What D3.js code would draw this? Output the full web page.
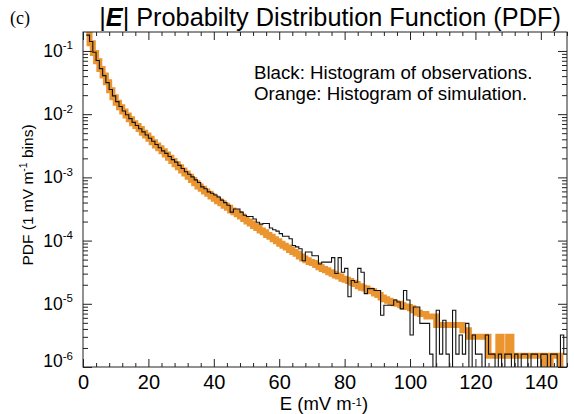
<!DOCTYPE html>
<html>
<head>
<meta charset="utf-8">
<script src="https://cdn.jsdelivr.net/npm/d3@7"></script>
<style>
  html, body { margin: 0; padding: 0; background: #fff; }
  svg { display: block; font-family: "Liberation Sans", Arial, Helvetica, sans-serif; }
</style>
</head>
<body>
<svg id="chart" width="574" height="414"></svg>
<script>
// Histogram bins are 1 mV/m wide; bin i spans [i, i+1].
const binStart = 1;

// Observed |E| histogram (PDF per 1 mV/m bin); 0 = empty bin.
const observed = [
  0.178, 0.141, 0.0955, 0.0708, 0.0525, 0.0407, 0.0316, 0.0245, 0.0195, 0.0158,
  0.0132, 0.0112, 0.00977, 0.00851, 0.00741, 0.00661, 0.00589, 0.00525, 0.00468, 0.00417,
  0.00372, 0.00331, 0.00295, 0.00263, 0.0024, 0.00214, 0.00191, 0.00174, 0.00155, 0.00138,
  0.00123, 0.00112, 0.00102, 0.000912, 0.000832, 0.000708, 0.000661, 0.000589, 0.000562, 0.000525,
  0.00049, 0.000437, 0.000398, 0.000363, 0.000282, 0.000316, 0.000316, 0.000282, 0.000251, 0.00024,
  0.00024, 0.000219, 0.000195, 0.000182, 0.000186, 0.000186, 0.000158, 0.000148, 0.000141, 0.000129,
  0.000117, 0.000117, 0.000107, 0.0000832, 0.0000794, 0.0000741, 0.0000479, 0.0000661, 0.0000661, 0.0000575,
  0.0000575, 0.0000427, 0.0000457, 0.0000457, 0.0000457, 0.0000537, 0.0000302, 0.0000537, 0.0000316, 0.0000363,
  0.0000129, 0.0000234, 0.0000219, 0.0000363, 0.0000316, 0.0000145, 0.0000174, 0.0000174, 0.0000162, 0.0000162,
  0.0000066, 0.0000095, 0.0000095, 0.0000095, 0.0000115, 0.0000107, 0.0000083, 0.0000162, 0.0000115, 0.0000032,
  0.0000089, 0.0000089, 0.0000049, 0.0000049, 0.0000049, 0.0000016, 0, 0.0000079, 0.0000016, 0.0000055,
  0.0000016, 0, 0.0000079, 0.0000016, 0.0000032, 0.0000016, 0.0000049, 0, 0.0000032, 0.0000016,
  0.0000016, 0, 0.0000032, 0.0000016, 0.0000016, 0, 0.0000016, 0, 0.0000016, 0.0000016,
  0, 0.0000016, 0, 0.0000016, 0.0000016, 0, 0.0000016, 0.0000016, 0, 0.0000016,
  0.0000016, 0, 0.0000016, 0.0000016, 0, 0.0000032, 0.0000016
];

// Simulated |E| histogram (PDF per 1 mV/m bin); 0 = empty bin.
const simulated = [
  0.2, 0.132, 0.093, 0.069, 0.052, 0.041, 0.032, 0.024, 0.0186, 0.0151,
  0.0129, 0.011, 0.0095, 0.0083, 0.0072, 0.0065, 0.0058, 0.0051, 0.0046, 0.0041,
  0.0036, 0.0032, 0.0029, 0.0026, 0.0023, 0.00204, 0.00182, 0.00162, 0.00145, 0.00129,
  0.00115, 0.00102, 0.00091, 0.00081, 0.00072, 0.00066, 0.0006, 0.00055, 0.0005, 0.00046,
  0.00042, 0.00039, 0.000355, 0.00033, 0.0003, 0.00028, 0.00026, 0.00024, 0.00022, 0.0002,
  0.000186, 0.00017, 0.000158, 0.000145, 0.000135, 0.000123, 0.000115, 0.000105, 0.000098, 0.000089,
  0.000083, 0.000078, 0.000071, 0.000066, 0.000062, 0.000056, 0.000052, 0.000049, 0.000046, 0.000044,
  0.000041, 0.000038, 0.0000355, 0.000034, 0.0000316, 0.00003, 0.000028, 0.000027, 0.000025, 0.000024,
  0.000023, 0.0000215, 0.0000205, 0.000019, 0.000018, 0.0000175, 0.0000162, 0.0000158, 0.0000145, 0.0000138,
  0.0000126, 0.0000118, 0.0000112, 0.0000107, 0.0000102, 0.00001, 0.0000095, 0.0000091, 0.0000089, 0.0000085,
  0.0000079, 0.0000072, 0.0000069, 0.0000069, 0.0000063, 0.0000063, 0.0000063, 0.0000046, 0.0000046, 0.0000046,
  0.0000046, 0.0000046, 0.0000046, 0.0000046, 0.0000046, 0.0000038, 0.0000038, 0.000003, 0.000003, 0.000003,
  0.000003, 0.000003, 0.000003, 0.0000015, 0.0000015, 0.0000015, 0.000003, 0.0000015, 0.0000015, 0.000003,
  0.0000015, 0.0000015, 0.0000015, 0.0000015, 0.0000015, 0.0000015, 0.0000015, 0.0000015, 0.0000015, 0.0000015,
  0, 0, 0.0000015, 0.0000015, 0.0000015, 0, 0
];

const xTicks = [0, 20, 40, 60, 80, 100, 120, 140];
const yDecades = [-6, -5, -4, -3, -2, -1];

const W = 574, H = 414;
const margin = { left: 83, right: 7, top: 32, bottom: 47 };
const svg = d3.select("#chart");

const x = d3.scaleLinear().domain([0, 148]).range([margin.left, W - margin.right]);
const y = d3.scaleLog().domain([1e-6, Math.pow(10, -0.7)]).range([H - margin.bottom, margin.top]);

svg.append("defs").append("clipPath").attr("id", "plot-clip")
  .append("rect")
  .attr("x", x(0)).attr("y", y.range()[1])
  .attr("width", x(148) - x(0)).attr("height", y.range()[0] - y.range()[1]);

// Step outline for a histogram; empty bins drop below the axis.
function histPoints(values) {
  const pts = values.map((v, i) => [binStart + i, v > 0 ? v : 1e-8]);
  pts.push([binStart + values.length, values[values.length - 1] > 0 ? values[values.length - 1] : 1e-8]);
  return pts;
}
const stepLine = d3.line()
  .x(d => x(d[0]))
  .y(d => y(d[1]))
  .curve(d3.curveStepAfter);

const plot = svg.append("g").attr("clip-path", "url(#plot-clip)");
plot.append("path")
  .attr("d", stepLine(histPoints(simulated)))
  .attr("fill", "none")
  .attr("stroke", "#e88c1e")
  .attr("stroke-width", 6)
  .attr("stroke-opacity", 0.92);
plot.append("path")
  .attr("d", stepLine(histPoints(observed)))
  .attr("fill", "none")
  .attr("stroke", "#111")
  .attr("stroke-width", 1.1);

// Frame
const axisColor = "#222";
svg.append("rect")
  .attr("x", x(0)).attr("y", y.range()[1])
  .attr("width", x(148) - x(0)).attr("height", y.range()[0] - y.range()[1])
  .attr("fill", "none").attr("stroke", axisColor).attr("stroke-width", 1);

// X axes (bottom with labels, top mirrored)
const xMinor = d3.range(0, 149, 4).filter(v => v % 20 !== 0);
const xBottom = d3.axisBottom(x).tickValues(xTicks).tickSize(-8).tickFormat(d3.format("d"));
const xBottomMinor = d3.axisBottom(x).tickValues(xMinor).tickSize(-4).tickFormat("");
const xTop = d3.axisTop(x).tickValues(xTicks).tickSize(-8).tickFormat("");
const xTopMinor = d3.axisTop(x).tickValues(xMinor).tickSize(-4).tickFormat("");

function styleAxis(g) {
  g.select(".domain").remove();
  g.selectAll(".tick line").attr("stroke", axisColor);
}
const gxb = svg.append("g").attr("transform", `translate(0,${y.range()[0]})`).call(xBottom).call(styleAxis);
gxb.selectAll(".tick text")
  .attr("y", 8).attr("dy", "0.71em")
  .attr("font-size", 20).attr("fill", "#000")
  .attr("font-family", "Liberation Sans, Arial, sans-serif");
svg.append("g").attr("transform", `translate(0,${y.range()[0]})`).call(xBottomMinor).call(styleAxis);
svg.append("g").attr("transform", `translate(0,${y.range()[1]})`).call(xTop).call(styleAxis);
svg.append("g").attr("transform", `translate(0,${y.range()[1]})`).call(xTopMinor).call(styleAxis);

// Y axes (log): decades labelled, 2..9 minor ticks
const yMajor = yDecades.map(e => Math.pow(10, e));
const yMinor = [];
yDecades.forEach(e => { for (let k = 2; k <= 9; k++) { const v = k * Math.pow(10, e); if (v <= y.domain()[1]) yMinor.push(v); } });

const yLeft = d3.axisLeft(y).tickValues(yMajor).tickSize(-9).tickFormat("");
const yLeftMinor = d3.axisLeft(y).tickValues(yMinor).tickSize(-5).tickFormat("");
const yRight = d3.axisRight(y).tickValues(yMajor).tickSize(-9).tickFormat("");
const yRightMinor = d3.axisRight(y).tickValues(yMinor).tickSize(-5).tickFormat("");
svg.append("g").attr("transform", `translate(${x(0)},0)`).call(yLeft).call(styleAxis);
svg.append("g").attr("transform", `translate(${x(0)},0)`).call(yLeftMinor).call(styleAxis);
svg.append("g").attr("transform", `translate(${x(148)},0)`).call(yRight).call(styleAxis);
svg.append("g").attr("transform", `translate(${x(148)},0)`).call(yRightMinor).call(styleAxis);

// Decade labels: 10 with superscript exponent (lowest kept inside the frame height)
const yLab = svg.append("g").attr("font-size", 17.5).attr("fill", "#000");
yDecades.forEach(e => {
  const base = Math.min(y(Math.pow(10, e)) + 6, y.range()[0]);
  const t = yLab.append("text")
    .attr("x", x(0) - 10)
    .attr("y", base)
    .attr("text-anchor", "end");
  t.append("tspan").text("10");
  t.append("tspan").attr("font-size", 11.5).attr("dy", -7.5).text(String(e));
});

// Axis titles
const xt = svg.append("text")
  .attr("x", (x(0) + x(148)) / 2 - 1).attr("y", 410)
  .attr("text-anchor", "middle").attr("font-size", 18.5);
xt.append("tspan").text("E (mV m");
xt.append("tspan").attr("font-size", 11.5).attr("dy", -4.5).text("-1");
xt.append("tspan").attr("dy", 4.5).text(")");

const yt = svg.append("text")
  .attr("transform", `translate(33,195) rotate(-90)`)
  .attr("text-anchor", "middle").attr("font-size", 15.5);
yt.append("tspan").text("PDF (1 mV m");
yt.append("tspan").attr("font-size", 10.5).attr("dy", -6).text("-1");
yt.append("tspan").attr("dy", 6).text(" bins)");

// Title
const title = svg.append("text")
  .attr("x", 330).attr("y", 26)
  .attr("text-anchor", "middle").attr("font-size", 25.3);
title.append("tspan").text("|");
title.append("tspan").attr("font-weight", "bold").attr("font-style", "italic").text("E");
title.append("tspan").text("| Probabilty Distribution Function (PDF)");

svg.append("text")
  .attr("x", 10).attr("y", 24)
  .attr("font-family", "Liberation Serif, Times New Roman, serif")
  .attr("font-size", 18).text("(c)");

// Legend notes
const note = svg.append("g").attr("font-size", 18.7);
note.append("text").attr("x", 254).attr("y", 79).text("Black: Histogram of observations.");
note.append("text").attr("x", 254).attr("y", 100).text("Orange: Histogram of simulation.");
</script>
</body>
</html>
